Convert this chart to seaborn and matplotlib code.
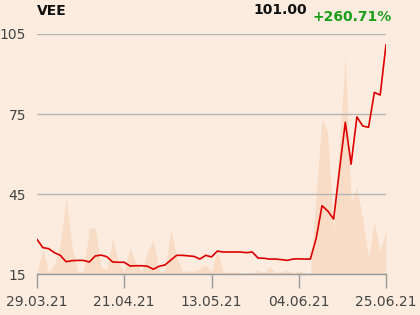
import numpy as np
import pandas as pd
import matplotlib
matplotlib.use("Agg")
import matplotlib.pyplot as plt
import seaborn as sns

# ---- data ----
price = [28.0, 24.9, 24.5, 23.0, 22.0, 19.6, 20.0, 20.1, 20.1, 19.5,
         21.75, 22.1, 21.5, 19.5, 19.4, 19.4, 18.0, 18.1, 18.1, 17.9,
         16.8, 17.9, 18.4, 20.2, 22.0, 22.0, 21.8, 21.6, 20.6, 22.0,
         21.4, 23.6, 23.25, 23.25, 23.25, 23.25, 23.0, 23.25, 21.0, 20.9,
         20.6, 20.6, 20.4, 20.1, 20.6, 20.7, 20.6, 20.6, 28.4, 40.6,
         38.6, 35.6, 54.0, 71.9, 56.2, 73.9, 70.5, 70.0, 83.1, 82.1,
         101.0]
volume = [1, 25, 1.5, 10, 30, 76, 29, 2.3, 3, 46,
          46, 7, 4, 36, 11, 2.5, 26, 11, 2.5, 22,
          34, 2.5, 3, 44, 17, 3, 3, 2.5, 5.5, 9,
          2.5, 25, 2.5, 1.5, 2, 1.5, 1, 1, 4, 1,
          7.5, 1.5, 2, 4, 1, 3.5, 1, 0, 80, 155.7,
          140.7, 42, 130, 217.5, 72.3, 86.3, 55, 15.7, 51, 22.3,
          44]
tick_pos = [0, 15, 30, 45, 60]
tick_labels = ["29.03.21", "21.04.21", "13.05.21", "04.06.21", "25.06.21"]
y_ticks = [15, 45, 75, 105]
title = "VEE"
last_label = "101.00"
change_label = "+260.71%"

df = pd.DataFrame({"i": np.arange(len(price)), "price": price, "volume": volume})

# ---- style ----
bg = "#fbecdf"
sns.set_style("white")
plt.rcParams["font.family"] = ["DejaVu Sans"]

fig = plt.figure(figsize=(4.2, 3.15), dpi=100, facecolor=bg)
ax = fig.add_axes([37/420, 1-274/315, (386-37)/420, (274-34)/315])
ax2 = ax.twinx()

# volume area behind
ax2.fill_between(df["i"], 0, df["volume"], color="#f8dcc6", linewidth=0)
ax2.set_ylim(0, 240)
ax2.set_facecolor(bg)
ax2.set_yticks([])
for s in ax2.spines.values():
    s.set_visible(False)

ax.set_zorder(ax2.get_zorder() + 1)
ax.patch.set_visible(False)

sns.lineplot(data=df, x="i", y="price", ax=ax, color="#dd0000", linewidth=1.2)

ax.set_xlim(0, 60)
ax.set_ylim(15, 105)
ax.set_yticks(y_ticks)
ax.set_yticklabels([str(v) for v in y_ticks])
ax.set_xticks(tick_pos)
ax.set_xticklabels(tick_labels)
ax.set_xlabel("")
ax.set_ylabel("")
ax.yaxis.grid(True, color="#b5b5b5", linewidth=1)
ax.xaxis.grid(False)
for side in ["left", "right", "top"]:
    ax.spines[side].set_visible(False)
ax.spines["bottom"].set_color("#999999")
ax.spines["bottom"].set_linewidth(1)
ax.tick_params(axis="x", length=10, width=1, color="#999999", pad=5,
               labelsize=10, labelcolor="#444444", direction="out", bottom=True)
ax.tick_params(axis="y", length=0, pad=8, labelsize=10, labelcolor="#444444")

fig.text(37/420, 1-11/315, title, fontsize=10, fontweight="bold",
         color="#111111", ha="left", va="center")
fig.text(307/420, 1-10/315, last_label, fontsize=10, fontweight="bold",
         color="#111111", ha="right", va="center")
fig.text(313/420, 1-17/315, change_label, fontsize=10, fontweight="bold",
         color="#1a9e1a", ha="left", va="center")

fig.savefig("out.png", dpi=100, facecolor=bg)
